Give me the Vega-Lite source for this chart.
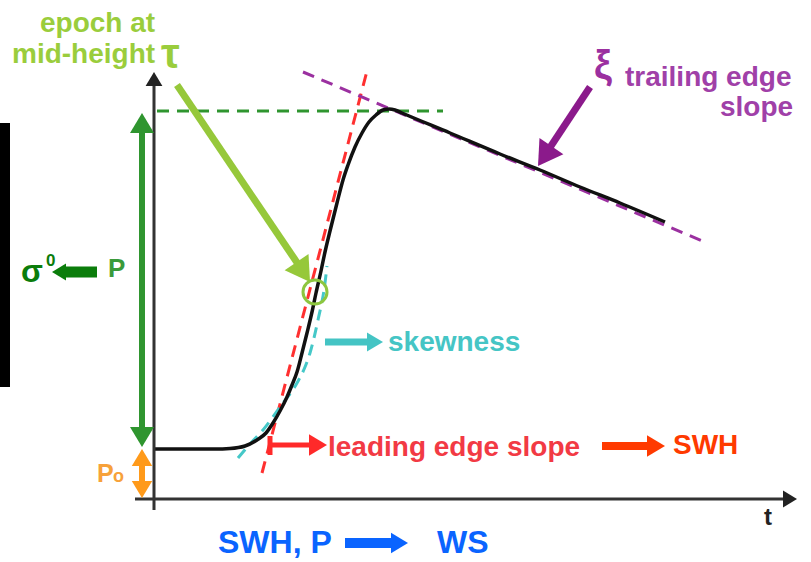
{
  "$schema": "https://vega.github.io/schema/vega-lite/v6.json",
  "width": 811,
  "height": 562,
  "autosize": {"type": "fit", "contains": "padding"},
  "padding": 0,
  "background": "white",
  "config": {"view": {"stroke": null}},
  "resolve": {"scale": {"color": "independent", "size": "independent", "strokeWidth": "independent", "angle": "independent"}},
  "encoding": {
    "x": {"field": "x", "type": "quantitative", "scale": {"domain": [0, 811], "nice": false, "zero": false}, "axis": null},
    "y": {"field": "y", "type": "quantitative", "scale": {"domain": [0, 562], "nice": false, "zero": false, "reverse": true}, "axis": null}
  },
  "layer": [
    {
      "data": {"values": [{"x": 0, "y": 123, "x2": 10, "y2": 387}]},
      "mark": {"type": "rect", "color": "#000000"},
      "encoding": {"x2": {"field": "x2"}, "y2": {"field": "y2"}}
    },
    {
      "data": {"values": [
        {"x": 262, "y": 473, "x2": 367, "y2": 71, "k": "red"},
        {"x": 157, "y": 111, "x2": 443, "y2": 111, "k": "green"},
        {"x": 303, "y": 72, "x2": 707, "y2": 243, "k": "purple"}
      ]},
      "mark": {"type": "rule", "strokeWidth": 3, "strokeDash": [12, 8]},
      "encoding": {
        "x2": {"field": "x2"}, "y2": {"field": "y2"},
        "color": {"field": "k", "type": "nominal", "legend": null,
          "scale": {"domain": ["red", "green", "purple"], "range": ["#ff3030", "#2f952f", "#9b30a0"]}}
      }
    },
    {
      "data": {"values": [
        {"x": 238, "y": 458}, {"x": 250, "y": 444}, {"x": 263, "y": 430}, {"x": 280, "y": 407},
        {"x": 297, "y": 383}, {"x": 305, "y": 367}, {"x": 310, "y": 353}, {"x": 318, "y": 320},
        {"x": 325, "y": 283}, {"x": 327, "y": 266}
      ]},
      "mark": {"type": "line", "color": "#45c8c8", "strokeWidth": 3, "strokeDash": [11, 7], "interpolate": "monotone"}
    },
    {
      "data": {"values": [
        {"x": 155, "y": 449}, {"x": 190, "y": 449}, {"x": 215, "y": 449}, {"x": 230, "y": 448.5},
        {"x": 245, "y": 446}, {"x": 257, "y": 440}, {"x": 266, "y": 433}, {"x": 273, "y": 423},
        {"x": 280, "y": 411}, {"x": 287, "y": 397}, {"x": 292, "y": 385}, {"x": 297, "y": 372},
        {"x": 302, "y": 353}, {"x": 307, "y": 333}, {"x": 312, "y": 312}, {"x": 316, "y": 293},
        {"x": 321, "y": 271}, {"x": 325, "y": 252}, {"x": 330, "y": 231}, {"x": 337, "y": 203},
        {"x": 343, "y": 180}, {"x": 348, "y": 165}, {"x": 355, "y": 147}, {"x": 362, "y": 133},
        {"x": 369, "y": 122}, {"x": 376, "y": 115}, {"x": 383, "y": 110}, {"x": 389, "y": 109},
        {"x": 395, "y": 110}, {"x": 402, "y": 113}, {"x": 450, "y": 133}, {"x": 500, "y": 154},
        {"x": 540, "y": 170}, {"x": 580, "y": 187}, {"x": 620, "y": 203}, {"x": 665, "y": 222}
      ]},
      "mark": {"type": "line", "color": "#111111", "strokeWidth": 3.5, "interpolate": "monotone"}
    },
    {
      "data": {"values": [
        {"x": 154, "y": 84, "x2": 154, "y2": 510, "k": "axis"},
        {"x": 135, "y": 499, "x2": 785, "y2": 499, "k": "axis"},
        {"x": 142, "y": 125, "x2": 142, "y2": 435, "k": "P"},
        {"x": 142, "y": 460, "x2": 142, "y2": 486, "k": "Po"},
        {"x": 62, "y": 272, "x2": 97, "y2": 272, "k": "sigma"},
        {"x": 177, "y": 85, "x2": 300, "y2": 267, "k": "tau"},
        {"x": 590, "y": 87, "x2": 547, "y2": 152, "k": "xi"},
        {"x": 325, "y": 342, "x2": 370, "y2": 342, "k": "skew"},
        {"x": 270, "y": 445, "x2": 312, "y2": 445, "k": "lead"},
        {"x": 270, "y": 436, "x2": 270, "y2": 455, "k": "lead"},
        {"x": 602, "y": 446, "x2": 650, "y2": 446, "k": "swh"},
        {"x": 345, "y": 543, "x2": 394, "y2": 543, "k": "ws"}
      ]},
      "mark": {"type": "rule", "strokeCap": "butt"},
      "encoding": {
        "x2": {"field": "x2"}, "y2": {"field": "y2"},
        "color": {"field": "k", "type": "nominal", "legend": null,
          "scale": {"domain": ["axis", "P", "Po", "sigma", "tau", "xi", "skew", "lead", "swh", "ws"],
                    "range": ["#333333", "#2f952f", "#ff9a1a", "#0b7d0b", "#96c83a", "#8b1a8b", "#44c4c4", "#ff2a2a", "#ff3a00", "#0a64ff"]}},
        "strokeWidth": {"field": "k", "type": "ordinal", "legend": null,
          "scale": {"type": "ordinal", "domain": ["axis", "P", "Po", "sigma", "tau", "xi", "skew", "lead", "swh", "ws"],
                    "range": [3, 6, 6, 11, 7, 7, 7, 5, 8, 10]}}
      }
    },
    {
      "data": {"values": [
        {"x": 154, "y": 72, "dir": 0, "k": "axis"},
        {"x": 797, "y": 499, "dir": 90, "k": "axis"},
        {"x": 142, "y": 113, "dir": 0, "k": "P"},
        {"x": 142, "y": 447, "dir": 180, "k": "P"},
        {"x": 142, "y": 449, "dir": 0, "k": "Po"},
        {"x": 142, "y": 498, "dir": 180, "k": "Po"},
        {"x": 52, "y": 272, "dir": 270, "k": "sigma"},
        {"x": 310, "y": 282, "dir": 146, "k": "tau"},
        {"x": 538, "y": 166, "dir": 214, "k": "xi"},
        {"x": 383, "y": 342, "dir": 90, "k": "skew"},
        {"x": 327, "y": 445, "dir": 90, "k": "lead"},
        {"x": 665, "y": 446, "dir": 90, "k": "swh"},
        {"x": 408, "y": 543, "dir": 90, "k": "ws"}
      ]},
      "mark": {"type": "point", "shape": "M0,0L1.2,2L-1.2,2Z", "filled": true, "opacity": 1, "strokeWidth": 0},
      "encoding": {
        "angle": {"field": "dir", "type": "quantitative", "scale": {"domain": [0, 360], "range": [0, 360]}},
        "color": {"field": "k", "type": "nominal", "legend": null,
          "scale": {"domain": ["axis", "P", "Po", "sigma", "tau", "xi", "skew", "lead", "swh", "ws"],
                    "range": ["#222222", "#2f952f", "#ff9a1a", "#0b7d0b", "#96c83a", "#8b1a8b", "#44c4c4", "#ff2a2a", "#ff3a00", "#0a64ff"]}},
        "size": {"field": "k", "type": "ordinal", "legend": null,
          "scale": {"type": "ordinal", "domain": ["axis", "P", "Po", "sigma", "tau", "xi", "skew", "lead", "swh", "ws"],
                    "range": [196, 400, 289, 196, 576, 576, 256, 324, 324, 289]}}
      }
    },
    {
      "data": {"values": [{"x": 315, "y": 292}]},
      "mark": {"type": "point", "shape": "circle", "filled": false, "stroke": "#8dc63f", "strokeWidth": 3, "size": 576, "opacity": 1}
    },
    {
      "data": {"values": [
        {"label": "epoch at", "x": 40, "y": 32, "k": "tau"},
        {"label": "mid-height", "x": 12, "y": 63, "k": "tau"},
        {"label": "τ", "x": 161, "y": 68, "k": "tauSym"},
        {"label": "P", "x": 108, "y": 277, "k": "P"},
        {"label": "σ", "x": 21, "y": 282, "k": "sigma"},
        {"label": "0", "x": 46, "y": 266, "k": "sup"},
        {"label": "P", "x": 97, "y": 482, "k": "Po"},
        {"label": "o", "x": 113, "y": 482, "k": "PoSub"},
        {"label": "skewness", "x": 388, "y": 351, "k": "skew"},
        {"label": "leading edge slope", "x": 328, "y": 456, "k": "lead"},
        {"label": "SWH", "x": 673, "y": 454, "k": "swh"},
        {"label": "ξ", "x": 594, "y": 79, "k": "xi"},
        {"label": "trailing edge", "x": 625, "y": 86, "k": "trail"},
        {"label": "slope", "x": 720, "y": 116, "k": "trail"},
        {"label": "t", "x": 764, "y": 525, "k": "t"},
        {"label": "SWH, P", "x": 218, "y": 553, "k": "ws"},
        {"label": "WS", "x": 437, "y": 553, "k": "ws"}
      ]},
      "mark": {"type": "text", "align": "left", "baseline": "alphabetic", "font": "Liberation Sans", "fontWeight": "bold"},
      "encoding": {
        "text": {"field": "label"},
        "color": {"field": "k", "type": "nominal", "legend": null,
          "scale": {"domain": ["tau", "tauSym", "P", "sigma", "sup", "Po", "PoSub", "skew", "lead", "swh", "xi", "trail", "t", "ws"],
                    "range": ["#9acd3c", "#9acd3c", "#3a9a3a", "#0b7d0b", "#0b7d0b", "#f7a13a", "#f7a13a", "#45c5c5", "#f23a44", "#ff3a00", "#9b30a0", "#a040a8", "#222222", "#0a64ff"]}},
        "size": {"field": "k", "type": "ordinal", "legend": null,
          "scale": {"type": "ordinal", "domain": ["tau", "tauSym", "P", "sigma", "sup", "Po", "PoSub", "skew", "lead", "swh", "xi", "trail", "t", "ws"],
                    "range": [28, 42, 26, 32, 17, 25, 18, 28, 28, 28, 40, 28, 24, 32]}}
      }
    }
  ]
}
